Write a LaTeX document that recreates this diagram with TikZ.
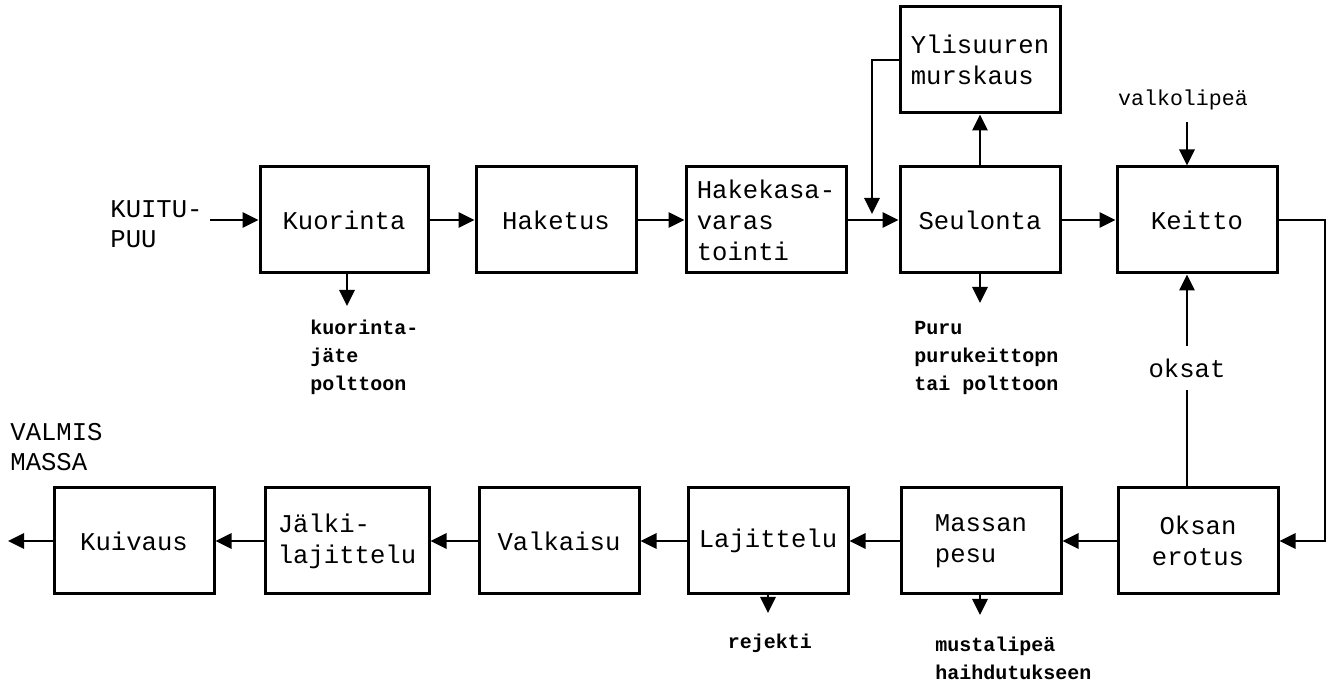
\documentclass[tikz,border=0pt]{standalone}
\usepackage{fontspec}
\setmonofont{Liberation Mono}
\usetikzlibrary{arrows.meta}
\begin{document}
\begin{tikzpicture}[x=0.5pt,y=-0.5pt,
  box/.style={draw,line width=1.5pt,minimum width=80pt,minimum height=53pt,align=left,
    font=\ttfamily\fontsize{12.8}{15.5}\selectfont},
  lbl/.style={align=left,inner sep=1pt,font=\ttfamily\fontsize{12.8}{15}\selectfont},
  note/.style={align=left,inner sep=1pt,font=\ttfamily\bfseries\fontsize{10}{14}\selectfont},
  arr/.style={line width=1.4pt,-{Triangle[length=8pt,width=7.5pt]}},
  ln/.style={line width=1.4pt}]
\useasboundingbox (0,0) rectangle (1335,688);
% upper row
\node[box,minimum width=84pt] (kuor) at (344,220) {Kuorinta};
\node[box] (hak) at (556,220) {Haketus};
\node[box] (varas) at (766,220) {Hakekasa-\\varas\\tointi};
\node[box] (seul) at (980,220) {Seulonta};
\node[box] (ylis) at (980,60) {Ylisuuren\\murskaus};
\node[box] (keit) at (1197,220) {Keitto};
% lower row
\node[box,align=center] (oks) at (1198,541) {Oksan\\erotus};
\node[box] (mas) at (981,541) {Massan\\pesu};
\node[box] (laj) at (768,541) {Lajittelu};
\node[box] (valk) at (559,541) {Valkaisu};
\node[box,minimum width=82pt] (jalk) at (347,541) {Jälki-\\lajittelu};
\node[box] (kuiv) at (134,541) {Kuivaus};
% texts
\node[lbl,anchor=west] (puu) at (108,224) {KUITU-\\PUU};
\node[lbl,anchor=west] (valmis) at (8,447) {VALMIS\\MASSA};
\node[lbl,font=\ttfamily\fontsize{10.8}{14}\selectfont] (vlip) at (1183,100) {valkolipeä};
\node[lbl,inner sep=6pt] (oksat) at (1187,368) {oksat};
\node[note,anchor=west] (kjate) at (308,357) {kuorinta-\\jäte\\polttoon};
\node[note,anchor=west] (puru) at (912,358) {Puru\\purukeittopn\\tai polttoon};
\node[note] (rej) at (770,643) {rejekti};
\node[note,anchor=west] (must) at (933,658) {mustalipeä\\haihdutukseen};
% free ends
\coordinate (kin) at (210,220);
\coordinate (merge) at (872,214);
\coordinate (purud) at (980,303);
\coordinate (vin) at (1187,122);
\coordinate (rside) at (1325,400);
\coordinate (kjd) at (347,306);
\coordinate (rejd) at (768,613);
\coordinate (mustd) at (980,615);
\coordinate (kout) at (8,541);
% flow
\draw[arr] (kin) -- (kuor);
\draw[arr] (kuor) -- (hak);
\draw[arr] (hak) -- (varas);
\draw[arr] (varas) -- (seul);
\draw[arr] (ylis.west) -| (merge);
\draw[arr] (seul) -- (ylis);
\draw[arr] (seul.south) -- (purud);
\draw[arr] (seul) -- (keit);
\draw[arr] (vin) -- (vin |- keit.north);
\draw[arr] (keit.east) -| (rside) |- (oks.east);
\draw[ln] (oks.north -| oksat) -- (oksat);
\draw[arr] (oksat) -- (oksat |- keit.south);
\draw[arr] (oks) -- (mas);
\draw[arr] (mas) -- (laj);
\draw[arr] (laj) -- (valk);
\draw[arr] (valk) -- (jalk);
\draw[arr] (jalk) -- (kuiv);
\draw[arr] (kuiv) -- (kout);
\draw[arr] (kuor.south -| kjd) -- (kjd);
\draw[arr] (laj.south -| rejd) -- (rejd);
\draw[arr] (mas.south -| mustd) -- (mustd);
\end{tikzpicture}
\end{document}
